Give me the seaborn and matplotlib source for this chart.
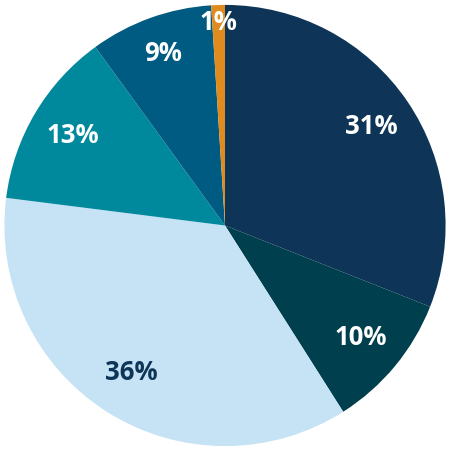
import seaborn as sns
import matplotlib.pyplot as plt

shares = [31, 10, 36, 13, 9, 1]
labels = ['31%', '10%', '36%', '13%', '9%', '1%']
colors = ['#0e3558', '#003f4d', '#c6e3f5', '#00899c', '#005b82', '#e08b1e']
text_colors = ['white', 'white', '#0e3558', 'white', 'white', 'white']
label_dist = [0.8, 0.8, 0.79, 0.8, 0.83, 0.92]

sns.set_style('white')
plt.rcParams['font.family'] = ['Open Sans', 'DejaVu Sans']

fig = plt.figure(figsize=(4.5, 4.51), dpi=100)
ax = fig.add_axes([0, 0, 1, 1])
wedges, texts = ax.pie(shares, colors=colors, startangle=90, counterclock=False,
                       labels=labels, labeldistance=0.8,
                       wedgeprops={'linewidth': 0, 'edgecolor': 'none'},
                       textprops={'fontsize': 18.5, 'fontweight': 'bold'})
for t, c, d in zip(texts, text_colors, label_dist):
    x, y = t.get_position()
    t.set_position((x / 0.8 * d, y / 0.8 * d))
    t.set_color(c)
    t.set_ha('center')
    t.set_va('center')
ax.set_aspect('equal')
ax.set_xlim(-1.02, 1.02)
ax.set_ylim(-1.02, 1.02)
ax.axis('off')
fig.savefig('out.png', dpi=100)
